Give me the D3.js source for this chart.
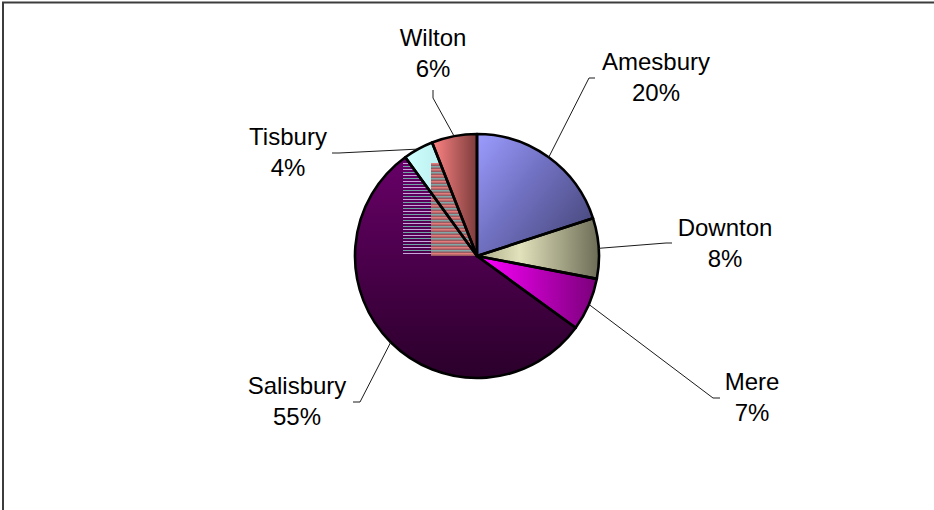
<!DOCTYPE html>
<html>
<head>
<meta charset="utf-8">
<script src="https://cdn.jsdelivr.net/npm/d3@7"></script>
<style>
	body { margin: 0; background: #fff; }
	svg { display: block; }
	text { font-family: 'Liberation Sans', Arial, sans-serif; font-size: 24px; fill: #000; }
</style>
</head>
<body>
<script>
var towns = ['Amesbury', 'Downton', 'Mere', 'Salisbury', 'Tisbury', 'Wilton'];
var shares = [20, 8, 7, 55, 4, 6];

// label layout: text centre, baselines, and the short tick next to the text
var labelLayout = [
	{ x: 656, y: 70, tick: [[595, 78], [589, 78]] },
	{ x: 725, y: 236, tick: [[672, 243], [666, 243]] },
	{ x: 752, y: 390, tick: [[720, 398], [713, 398]] },
	{ x: 297, y: 394, tick: [[353, 402], [360, 402]] },
	{ x: 288, y: 145, tick: [[332, 153], [339, 153]] },
	{ x: 433, y: 46, tick: [[433, 90], [433, 98]] }
];

var gradients = [
	{ id: 'g0', x2: 1, y2: 0.8, stops: [['0', '#9c9cff'], ['0.45', '#7272c4'], ['1', '#48487c']] },
	{ id: 'g1', x2: 1, y2: 0, stops: [['0', '#a8a884'], ['0.35', '#e2e2bc'], ['1', '#6c6c56']] },
	{ id: 'g2', x2: 1, y2: 0, stops: [['0', '#ff00ff'], ['1', '#7a007a']] },
	{ id: 'g3', x2: 0, y2: 1, stops: [['0', '#680068'], ['1', '#2a002a']] },
	{ id: 'g4', x2: 1, y2: 0, stops: [['0', '#d0ffff'], ['1', '#a6dede']] },
	{ id: 'g5', x2: 1, y2: 0, stops: [['0', '#ff8484'], ['1', '#7c3c3c']] }
];

var width = 934, height = 510,
	cx = 477, cy = 256, radius = 122;

var svg = d3.select('body').append('svg')
	.attr('width', width)
	.attr('height', height);

var defs = svg.append('defs');
gradients.forEach(function (g) {
	var lg = defs.append('linearGradient')
		.attr('id', g.id)
		.attr('x1', 0).attr('y1', 0)
		.attr('x2', g.x2).attr('y2', g.y2);
	g.stops.forEach(function (s) {
		lg.append('stop').attr('offset', s[0]).attr('stop-color', s[1]);
	});
});

// frame (top and left edges show)
svg.append('path')
	.attr('d', 'M3,' + height + 'V2.5H' + width)
	.attr('fill', 'none')
	.attr('stroke', '#3c3c3c')
	.attr('stroke-width', 2);

var pie = d3.pie().sort(null).value(d => d);
var arcs = pie(shares);

var arc = d3.arc().innerRadius(0).outerRadius(radius);
var edge = d3.arc().innerRadius(radius).outerRadius(radius);

var g = svg.append('g')
	.attr('transform', 'translate(' + cx + ',' + cy + ')');

g.selectAll('path.slice')
	.data(arcs)
	.enter().append('path')
	.attr('class', 'slice')
	.attr('d', arc)
	.attr('fill', (d, i) => 'url(#g' + i + ')');

// striped redraw glitch visible next to Tisbury / Wilton
defs.append('clipPath').attr('id', 'clipA')
	.append('path').attr('d', arc(arcs[3]));
var clipB = defs.append('clipPath').attr('id', 'clipB');
clipB.append('path').attr('d', arc(arcs[3]));
clipB.append('path').attr('d', arc(arcs[4]));

var rows = d3.range(-93, 0, 3);
var stripeA = g.append('g').attr('clip-path', 'url(#clipA)');
stripeA.selectAll('rect')
	.data(rows)
	.enter().append('rect')
	.attr('x', -74).attr('y', d => d)
	.attr('width', 28).attr('height', 1)
	.attr('fill', (d, i) => i % 2 ? '#6fa6a6' : '#c8a6dc');

var stripeB = g.append('g').attr('clip-path', 'url(#clipB)');
stripeB.append('rect')
	.attr('x', -46).attr('y', -93)
	.attr('width', 46).attr('height', 93)
	.attr('fill', '#9a5a60');
stripeB.selectAll('rect.row')
	.data(rows)
	.enter().append('rect')
	.attr('class', 'row')
	.attr('x', -46).attr('y', d => d)
	.attr('width', 46).attr('height', 1.5)
	.attr('fill', (d, i) => i % 2 ? '#80a8a8' : '#e47c7c');

g.selectAll('path.outline')
	.data(arcs)
	.enter().append('path')
	.attr('class', 'outline')
	.attr('d', arc)
	.attr('fill', 'none')
	.attr('stroke', '#000')
	.attr('stroke-width', 2.6)
	.attr('stroke-linejoin', 'round');

// leader lines
var line = d3.line();
svg.append('g')
	.selectAll('path')
	.data(arcs)
	.enter().append('path')
	.attr('d', (d, i) => {
		var p = edge.centroid(d);
		return line(labelLayout[i].tick.concat([[cx + p[0], cy + p[1]]]));
	})
	.attr('fill', 'none')
	.attr('stroke', '#1a1a1a')
	.attr('stroke-width', 1);

var labels = svg.append('g')
	.selectAll('text')
	.data(arcs)
	.enter().append('text')
	.attr('text-anchor', 'middle')
	.attr('x', (d, i) => labelLayout[i].x)
	.attr('y', (d, i) => labelLayout[i].y);

labels.append('tspan')
	.attr('x', (d, i) => labelLayout[i].x)
	.text((d, i) => towns[i]);
labels.append('tspan')
	.attr('x', (d, i) => labelLayout[i].x)
	.attr('dy', 31)
	.text(d => d.data + '%');
</script>
</body>
</html>
